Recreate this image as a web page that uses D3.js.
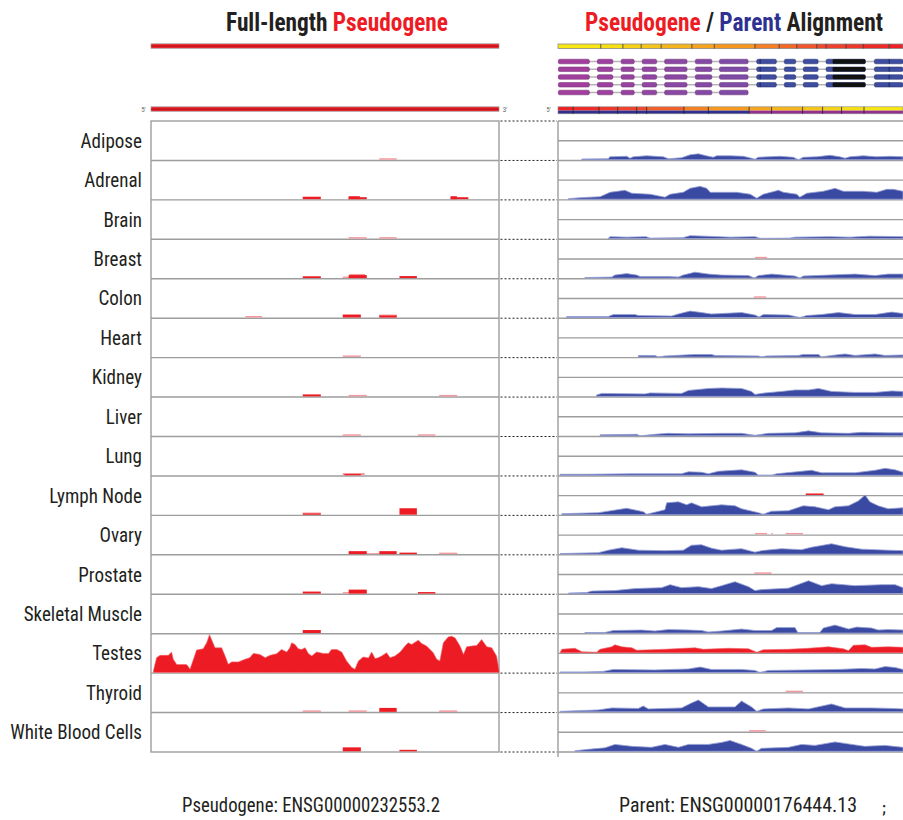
<!DOCTYPE html>
<html>
<head>
<meta charset="utf-8">
<script src="https://cdn.jsdelivr.net/npm/d3@7"></script>
<style>
  body { margin: 0; background: #fff; }
  svg { display: block; }
</style>
</head>
<body>
<svg id="chart" width="903" height="820"></svg>
<script>
// ---- Tissues (one track row each) ----
const tissues = ["Adipose", "Adrenal", "Brain", "Breast", "Colon", "Heart", "Kidney", "Liver",
  "Lung", "Lymph Node", "Ovary", "Prostate", "Skeletal Muscle", "Testes", "Thyroid", "White Blood Cells"];

// ---- Reads on the full-length pseudogene: [start %, end %, depth, kind] (u = unique, m = multi-mapped) ----
const pseudoAdipose  = [[65.6, 70.6, 1.5, "m"]];
const pseudoAdrenal  = [[43.6, 48.8, 2.5, "u"], [56.8, 62.0, 2, "u"], [56.8, 60.0, 3, "u"], [86.1, 91.2, 2, "u"], [86.1, 87.9, 3, "u"]];
const pseudoBrain    = [[56.8, 62.0, 1.5, "m"], [65.6, 70.6, 1.5, "m"]];
const pseudoBreast   = [[43.6, 48.8, 1.8, "u"], [55.1, 60.3, 1.5, "m"], [57.0, 61.5, 4.2, "m"], [56.8, 62.0, 3, "u"], [71.4, 76.4, 2, "u"]];
const pseudoColon    = [[27.1, 31.9, 1.5, "m"], [55.1, 60.3, 3, "u"], [65.6, 70.6, 3, "m"], [65.6, 70.6, 2, "u"]];
const pseudoHeart    = [[55.1, 60.3, 1.5, "m"]];
const pseudoKidney   = [[43.6, 48.8, 2, "u"], [56.8, 62.0, 1.5, "m"], [82.8, 88.0, 1.5, "m"]];
const pseudoLiver    = [[55.1, 60.3, 1.5, "m"], [76.7, 81.7, 1.5, "m"]];
const pseudoLung     = [[55.1, 61.4, 2.3, "m"], [55.6, 60.3, 1.2, "u"]];
const pseudoLymph    = [[43.6, 48.8, 2.2, "m"], [43.6, 48.8, 1.2, "u"], [71.4, 76.4, 6.5, "u"]];
const pseudoOvary    = [[56.8, 62.0, 3, "u"], [62.0, 65.6, 1, "m"], [65.6, 70.6, 3, "u"], [71.4, 76.4, 1.5, "u"], [82.8, 88.0, 1.5, "m"]];
const pseudoProstate = [[43.6, 48.8, 2, "u"], [55.1, 62.0, 1.5, "m"], [56.8, 62.0, 4, "u"], [76.7, 81.7, 1.5, "u"]];
const pseudoMuscle   = [[43.6, 48.8, 3, "u"]];
const pseudoTestes   = [];
const pseudoThyroid  = [[43.6, 48.8, 1.5, "m"], [56.8, 62.0, 1.5, "m"], [65.6, 70.6, 4, "u"], [82.8, 88.0, 1.5, "m"]];
const pseudoBlood    = [[55.1, 60.3, 4, "u"], [71.4, 76.4, 1.5, "u"]];

// Testes coverage along the pseudogene: [position %, depth]
const testesPseudoCoverage = [[0.7,1.7],[1.6,15],[2.6,17.3],[5.0,17.3],[5.9,20.7],[6.4,13.3],[7.4,8],[10.2,8],[10.7,6],
  [11.2,3.3],[12.2,13.3],[13.1,22.7],[15.0,24],[16.0,30],[16.8,38.3],[17.4,33.3],[18.4,25],[20.3,25],[21.3,16.7],
  [22.2,8.3],[23.2,10.7],[25.1,10.7],[27.0,13.3],[28.4,15],[29.4,19.3],[31.3,18.3],[32.8,15],[34.2,17.3],[36.1,19],
  [37.5,23.3],[39.0,20.7],[39.9,25],[40.4,30],[41.4,28.3],[42.3,24],[43.3,23.3],[44.3,25],[45.2,19.3],[46.2,16.7],
  [47.6,20.7],[49.5,19.3],[51.0,19.3],[51.9,23.3],[53.4,23.3],[54.8,20.7],[56.2,11.7],[57.7,5],[58.6,3.3],[59.6,11.7],
  [61.0,15.7],[62.5,14.7],[63.4,20.7],[64.4,14],[65.3,15],[66.3,16.7],[67.7,20],[68.7,15],[70.1,16.7],[71.6,20.7],
  [73.0,26.7],[73.9,30],[74.9,28.3],[75.9,30.7],[76.8,32.7],[77.8,29.3],[79.2,26.7],[81.1,20],[82.1,13.3],[83.0,11.7],
  [84.0,30],[85.4,36],[86.4,36.7],[87.4,35],[88.8,26.7],[89.8,18.3],[90.7,26],[92.1,26.7],[93.6,27.3],[95.0,33.3],
  [96.5,26],[97.9,25],[99.3,16.7],[99.8,6.7],[100,1.7]];

// ---- Parent-gene coverage per tissue: [position %, depth] ----
const parentAdipose = [[6.9,0.8],[14.6,1],[15,3],[19.9,3.5],[20.9,1.5],[21.8,3],[25.7,4],[30.5,3],[32,1],[35.8,2],[38.3,5],
  [40.7,6],[43,4],[45,2.5],[46,4],[49.9,4],[53.7,3.5],[56.1,1.5],[57.1,0.5],[58,2.5],[64.3,3.5],[68.2,2.5],[69.7,0],
  [71.1,2.5],[75,3],[78.8,4.5],[81.7,3],[83.2,1.5],[84.6,3],[88.5,4],[92.4,3],[96.2,3.5],[100,3]];
const parentAdrenal = [[3,0.5],[6.4,1.5],[12.2,2.5],[15.1,7],[19.4,9],[21.4,6],[26.7,5],[31,2],[32.5,5],[36.3,7],[38.3,11],
  [41.2,13],[43.1,11],[44.1,7],[51.8,7],[55.7,5],[57.6,1],[59.5,5],[63.9,9],[65.3,7],[69.2,5],[70.1,2],[72.1,6],
  [76.9,8],[80.3,11],[82.7,8],[88.5,8],[92.4,7],[95.3,10],[97.2,10],[100,8]];
const parentBrain = [[14.5,0],[15.1,2],[20,1.5],[25.5,2],[26.7,0.5],[36.2,1],[38.3,3],[42.6,2.5],[50,1.5],[57.1,2],
  [58.6,0.3],[67.2,0.5],[68.7,1.5],[78.8,2],[84.6,1.5],[90.4,2.5],[100,2]];
const parentBreast = [[7.8,0.5],[15.6,1],[16.5,3],[19.9,4.5],[22.8,3],[23.8,1.5],[32,1.5],[34.9,1],[36.3,3],[39.7,6],
  [43.6,4],[47.4,3],[55.2,2.5],[56.9,0],[58.1,2.5],[61.9,4],[68.7,2],[70.1,0],[71.1,2],[78.4,3],[86.1,4],[91.9,2.5],
  [95.7,4],[100,4]];
const parentColon = [[2.5,1],[14.6,1],[16,3],[22.3,3],[23.3,2],[32.9,1.5],[35.4,4],[38.3,6.5],[41.6,5],[44.5,3.5],
  [53.2,5],[57.1,2.5],[58.3,0.5],[59.5,3],[66.8,2.5],[70.1,0],[72.1,2],[76.4,3],[81.3,5],[86.1,3],[91.9,3],[96.7,5.5],
  [100,4]];
const parentHeart = [[23.3,1.5],[28.1,1.5],[29.1,0],[31,1],[39.7,2.5],[44.5,2.5],[45.5,1.5],[58.1,1],[59,0],[60.5,1],
  [69.7,1.5],[71.1,2.5],[75.5,2.5],[76.4,0],[79.3,1.5],[83.2,3],[86.1,1.5],[91.9,3],[94.8,1.5],[100,2]];
const parentKidney = [[11.2,1.5],[12.7,3],[25.2,2.5],[26.7,3.5],[35.8,3],[37.8,6],[43.6,8],[47.4,8.5],[53.2,8],[56.1,5],
  [57.1,2],[60,3.5],[64.8,5],[68.7,6.5],[72.6,6.5],[75.5,8],[79.3,5],[86.1,4],[91.9,4],[96.7,5.5],[100,5]];
const parentLiver = [[12.2,1],[22.8,1.5],[23.8,0],[28.1,1.5],[31.9,2.5],[37.8,2],[47.4,2.5],[53.2,2.5],[57.1,0.5],
  [61,2.5],[68.7,3],[72.6,5],[76.4,3],[84.2,2.5],[88,3.5],[95.7,3],[100,3]];
const parentLung = [[0.6,1],[8.8,1],[21.4,1.5],[30,1.5],[35.8,1.5],[37.8,3.5],[41.6,3],[43.6,1.5],[46.5,4],[53.2,5.5],
  [57.1,3],[58.1,0],[61.9,0],[63.4,1.5],[70.6,4],[73.5,5],[76.4,2.5],[86.1,2.5],[91.9,5],[94.8,7],[97.7,5.5],[100,3]];
const parentLymph = [[1.1,1],[11.7,2],[19.9,6.5],[24.7,3],[25.7,0.5],[28.1,2.5],[31,5],[31.5,12],[34.9,13],[37.3,10],
  [38.7,12],[41.6,8],[47.4,10],[51.3,9],[53.2,6],[58.1,2],[59.5,0.5],[61.9,3.5],[66.8,4],[71.1,9],[74.5,8],[78.4,5],
  [80.3,8],[84.2,9],[87.1,14],[89,20],[90.4,13],[92.8,9],[95.7,6],[100,7]];
const parentOvary = [[0.6,0.5],[11.7,1.5],[14.6,4],[18.5,6.5],[23.3,4],[31,3.5],[36.3,4],[38.7,9],[41.6,9.5],[44.5,6],
  [47.4,4],[53.2,5.5],[57.1,2],[59,3.5],[64.8,5.5],[70.6,4.5],[73.5,7],[79.3,10.5],[83.2,7.5],[88,5],[95.7,4],[100,3.5]];
const parentProstate = [[3,0.5],[8.3,1],[9.8,2.5],[16.5,3],[22.3,5],[30,6],[32.5,9],[35.8,6],[40.7,7],[44.5,5],[47.4,8],
  [51.3,12],[55.2,7],[57.1,3],[59,4],[66.8,5.5],[72.6,13],[76.4,8],[79.3,10],[86.1,8],[93.8,9],[97.7,9],[100,6]];
const parentMuscle = [[7.8,0.5],[13.6,0.5],[16,2.5],[24.3,3],[28.1,2],[32,3.5],[37.8,3],[41.6,2.5],[43.6,1],[47.4,2],
  [53.2,4],[57.1,2.5],[61.9,2.5],[63.4,5.5],[68.7,5.5],[69.5,0.5],[75.9,0.5],[76.9,5],[80.3,8],[84.2,4],[86.6,6],
  [90.9,5],[92.8,3],[95.7,3.5],[100,3]];
const parentTestes = [[0.6,0.5],[7.8,0.5],[13.1,1],[16,3],[28.1,2.5],[37.8,3.5],[41.2,5.5],[44.5,3],[53.2,3],[57.1,2],
  [58.5,0],[61,2],[71.6,2.5],[81.3,3],[88,4],[91.9,3.5],[94.8,6],[97.7,5],[100,3]];
const parentThyroid = [[0.6,0.5],[11.7,2],[15.6,4],[23.3,3.5],[24.7,6],[26.2,3],[35.8,4],[38.7,9],[40.7,12],[43.6,5],
  [51.3,5],[53.2,11],[56.1,5],[57.6,0.5],[59.5,3],[66.8,4],[72.6,3],[79.3,8],[83.2,4],[90.9,4],[96.7,3.5],[100,3]];
const parentBlood = [[4.9,0.5],[8.8,2],[13.6,3.5],[16.5,7],[21.4,5],[27.1,4],[31,7],[34.9,4],[37.8,7],[43.6,7],[47.4,9],
  [49.9,11],[53.2,7],[56.1,3],[57.6,0],[59,3],[66.8,4],[70.6,7],[74.5,6],[80.3,9.5],[85.1,7],[88.9,5],[94.8,6],[100,4]];

// ---- Pseudogene reads re-aligned onto the parent: [start %, end %, depth, kind] ----
const onParentBreast   = [[57.1, 60.6, 1.5, "m"]];
const onParentColon    = [[56.8, 60.3, 1.5, "m"]];
const onParentLymph    = [[71.8, 77.0, 1.5, "u"]];
const onParentOvary    = [[57.1, 60.6, 1.5, "m"], [61.9, 62.3, 1.5, "m"], [66.0, 71.0, 1.5, "m"]];
const onParentProstate = [[56.9, 61.9, 1.5, "m"]];
const onParentThyroid  = [[66.0, 71.0, 1.5, "m"]];
const onParentBlood    = [[55.4, 60.2, 1.5, "m"]];
// Testes reads spread over the whole parent alignment: [position %, depth]
const testesOnParentCoverage = [[0.6,0],[1.1,3.5],[4.9,4.5],[6.9,1],[11.2,0.5],[12.2,3.5],[15.6,6],[16.5,8],[18.5,6],
  [21.4,5],[22.8,2.5],[31,3.5],[39.7,5],[42.1,3.5],[49.4,4.5],[55.2,4],[57.6,0.5],[59.5,3],[66.8,3.5],[72.6,4.5],
  [78.4,6],[82.7,4],[84.2,2],[85.6,7.5],[89,8],[90.9,5.5],[95.7,6],[100,5.5]];

// ---- Parent transcript models (exon blocks, % of parent), 4 full isoforms and 1 partial ----
const parentExons = [[0.1, 9.1], [11.4, 15.9], [18.3, 22.1], [24.4, 28.6], [30.9, 37.4], [39.8, 44.6], [46.8, 55.1],
  [57.6, 63.3], [65.6, 68.9], [71.1, 75.4], [77.7, 89.1], [91.7, 100]];
const exonKinds = ["p", "p", "p", "p", "p", "p", "p", "b", "b", "b", "b", "b"];
const isoformExonCounts = [12, 12, 12, 12, 7];
const darkExonPart = [79.6, 89.1];
// Exon boundary ticks on the parent colour bar and on the alignment bar (% of parent)
const parentBarTicks = [12.4, 18.8, 24.1, 29.9, 38.8, 45.3, 57.1, 64.1, 69.2, 75.0, 77.7, 83.5, 88.5, 96.0];
const alignBarTicks = [4.4, 11.9, 17.3, 22.8, 25.7, 36.5, 43.6, 55.4, 61.9, 70.9, 76.7, 82.2, 88.7];
const alignStrandSplit = 55.4;

const pseudoTracks = [pseudoAdipose, pseudoAdrenal, pseudoBrain, pseudoBreast, pseudoColon, pseudoHeart, pseudoKidney,
  pseudoLiver, pseudoLung, pseudoLymph, pseudoOvary, pseudoProstate, pseudoMuscle, pseudoTestes, pseudoThyroid, pseudoBlood];
const parentTracks = [parentAdipose, parentAdrenal, parentBrain, parentBreast, parentColon, parentHeart, parentKidney,
  parentLiver, parentLung, parentLymph, parentOvary, parentProstate, parentMuscle, parentTestes, parentThyroid, parentBlood];
const onParentTracks = [[], [], [], onParentBreast, onParentColon, [], [], [], [], onParentLymph, onParentOvary,
  onParentProstate, [], [], onParentThyroid, onParentBlood];

const rows = tissues.map((name, i) => ({
  name,
  reads: pseudoTracks[i],
  parent: parentTracks[i],
  onParent: onParentTracks[i],
  pseudoCoverage: name === "Testes" ? testesPseudoCoverage : null,
  onParentCoverage: name === "Testes" ? testesOnParentCoverage : null
}));

// ---- Layout ----
const RED = "#ed1c24", PINK = "#f29aa0", BLUE = "#3a4aa3", NAVY = "#2e3192", INK = "#231f20", GRID = "#9d9d9d";
const NARROW = "'Liberation Sans Narrow', 'Roboto Condensed', 'Arial Narrow', 'Liberation Sans', sans-serif";
const trackTop = 121, trackBottom = 752;
const rowH = (trackBottom - trackTop) / tissues.length;

const svg = d3.select("#chart");
const xL = d3.scaleLinear().domain([0, 100]).range([151, 499]);
const xR = d3.scaleLinear().domain([0, 100]).range([558, 903]);
const yL = d3.scaleLinear().domain([0, 40]).range([0, rowH]);
const yR = d3.scaleLinear().domain([0, 20]).range([0, rowH / 2]);
const rowY = d3.scaleLinear().domain([0, tissues.length]).range([trackTop, trackBottom]);

function fitWidth(sel, width, cx) {
  const w = sel.node().getBBox().width;
  sel.attr("transform", `translate(${cx},0) scale(${width / w},1) translate(${-cx},0)`);
}

// ---- Titles ----
const t1 = svg.append("text").attr("x", 337).attr("y", 31).attr("text-anchor", "middle")
  .attr("font-family", NARROW).attr("font-weight", "bold").attr("font-size", 26);
t1.append("tspan").attr("fill", INK).text("Full-length ");
t1.append("tspan").attr("fill", RED).text("Pseudogene");
fitWidth(t1, 222, 337);

const t2 = svg.append("text").attr("x", 734).attr("y", 31).attr("text-anchor", "middle")
  .attr("font-family", NARROW).attr("font-weight", "bold").attr("font-size", 26);
t2.append("tspan").attr("fill", RED).text("Pseudogene");
t2.append("tspan").attr("fill", INK).text(" / ");
t2.append("tspan").attr("fill", NAVY).text("Parent");
t2.append("tspan").attr("fill", INK).text(" Alignment");
fitWidth(t2, 298, 734);

// ---- Pseudogene model bars ----
function pseudoBar(y) {
  svg.append("rect").attr("x", xL(0)).attr("y", y).attr("width", xL(100) - xL(0)).attr("height", 4.5)
    .attr("fill", RED).attr("stroke", "#a8a8a8").attr("stroke-width", 0.8);
  svg.append("line").attr("x1", xL(0)).attr("x2", xL(100)).attr("y1", y + 2.4).attr("y2", y + 2.4)
    .attr("stroke", "#b3121a").attr("stroke-width", 1);
}
pseudoBar(43.8);
pseudoBar(106.8);
const endLabel = (x, y, t) => svg.append("text").attr("x", x).attr("y", y).attr("font-size", 7)
  .attr("font-family", NARROW).attr("fill", "#666").attr("text-anchor", "middle").text(t);
endLabel(143.5, 111.5, "5'");
endLabel(505, 111.5, "3'");
endLabel(548.5, 111.5, "5'");

// ---- Parent colour bar (exon-coloured) ----
const warm = d3.scaleLinear().domain([0, 15, 40, 55, 75, 100])
  .range(["#f7ec13", "#f6e014", "#f6a71e", "#f7931d", "#ef4a2f", "#ed1c24"]);
const barEdges = [0, ...parentBarTicks, 100];
svg.append("g").selectAll("rect").data(d3.pairs(barEdges)).join("rect")
  .attr("x", d => xR(d[0])).attr("y", 44).attr("width", d => xR(d[1]) - xR(d[0])).attr("height", 4.5)
  .attr("fill", d => warm((d[0] + d[1]) / 2));
svg.append("rect").attr("x", xR(0)).attr("y", 44).attr("width", xR(100) - xR(0)).attr("height", 4.5)
  .attr("fill", "none").attr("stroke", "#8a8a8a").attr("stroke-width", 0.8);
svg.append("g").selectAll("line").data(parentBarTicks).join("line")
  .attr("x1", d => xR(d)).attr("x2", d => xR(d)).attr("y1", 44).attr("y2", 48.5)
  .attr("stroke", "#333").attr("stroke-width", 0.8);

// ---- Parent isoforms ----
const purple = d3.scaleLinear().domain([0, 6]).range(["#a23f9d", "#7d4ca6"]);
const isoY = d3.scaleLinear().domain([0, 4]).range([61.5, 92.5]);
isoformExonCounts.forEach((n, k) => {
  const cy = isoY(k);
  const exons = parentExons.slice(0, n);
  const g = svg.append("g");
  g.append("line").attr("x1", xR(exons[0][0])).attr("x2", xR(exons[n - 1][1])).attr("y1", cy).attr("y2", cy)
    .attr("stroke", "#b5b5b5").attr("stroke-width", 1.6);
  g.selectAll("rect.exon").data(exons).join("rect").attr("class", "exon")
    .attr("x", d => xR(d[0])).attr("y", cy - 2.3).attr("width", d => xR(d[1]) - xR(d[0])).attr("height", 4.6)
    .attr("rx", 1.5)
    .attr("fill", (d, i) => exonKinds[i] === "p" ? purple(i) : "#3e4da0")
    .attr("stroke", (d, i) => exonKinds[i] === "p" ? "#6e2a6e" : "#1f2a66").attr("stroke-width", 0.5);
  if (n > 10) {
    g.append("rect").attr("x", xR(darkExonPart[0])).attr("y", cy - 2.3)
      .attr("width", xR(darkExonPart[1]) - xR(darkExonPart[0])).attr("height", 4.6).attr("rx", 1.2).attr("fill", "#111");
    g.selectAll("line.split").data([parentExons[7][0] + 1, 96.0]).join("line").attr("class", "split")
      .attr("x1", d => xR(d)).attr("x2", d => xR(d)).attr("y1", cy - 2.3).attr("y2", cy + 2.3)
      .attr("stroke", "#151b4a").attr("stroke-width", 0.8);
  }
});

// ---- Pseudogene / parent alignment bar ----
const alignEdges = [0, ...alignBarTicks, 100];
svg.append("g").selectAll("rect").data(d3.pairs(alignEdges)).join("rect")
  .attr("x", d => xR(d[0])).attr("y", 106.8).attr("width", d => xR(d[1]) - xR(d[0])).attr("height", 3.8)
  .attr("fill", d => warm(100 - (d[0] + d[1]) / 2));
svg.append("rect").attr("x", xR(0)).attr("y", 110.6).attr("width", xR(alignStrandSplit) - xR(0)).attr("height", 3.2)
  .attr("fill", NAVY);
svg.append("rect").attr("x", xR(alignStrandSplit)).attr("y", 110.6)
  .attr("width", xR(100) - xR(alignStrandSplit)).attr("height", 3.2).attr("fill", "#93308f");
svg.append("rect").attr("x", xR(0)).attr("y", 106.8).attr("width", xR(100) - xR(0)).attr("height", 7)
  .attr("fill", "none").attr("stroke", "#8a8a8a").attr("stroke-width", 0.6);
svg.append("g").selectAll("line").data(alignBarTicks).join("line")
  .attr("x1", d => xR(d)).attr("x2", d => xR(d)).attr("y1", 106.8).attr("y2", 113.8)
  .attr("stroke", "#222").attr("stroke-width", 0.8);

// ---- Track frames ----
const grid = svg.append("g").attr("stroke", GRID).attr("stroke-width", 1.4).attr("fill", "none");
grid.append("rect").attr("x", xL(0)).attr("y", trackTop).attr("width", xL(100) - xL(0))
  .attr("height", trackBottom - trackTop);
grid.selectAll("line.l").data(d3.range(1, tissues.length)).join("line").attr("class", "l")
  .attr("x1", xL(0)).attr("x2", xL(100)).attr("y1", d => rowY(d)).attr("y2", d => rowY(d));
grid.selectAll("line.r").data(d3.range(0, tissues.length * 2 + 1)).join("line").attr("class", "r")
  .attr("x1", xR(0)).attr("x2", xR(100)).attr("y1", d => rowY(d / 2)).attr("y2", d => rowY(d / 2));
grid.append("line").attr("x1", xR(0)).attr("x2", xR(0)).attr("y1", trackTop).attr("y2", trackBottom + 5);

// Dotted connectors between the two panels at every row boundary
svg.append("g").selectAll("line").data(d3.range(0, tissues.length + 1)).join("line")
  .attr("x1", xL(100) + 1.5).attr("x2", xR(0) - 1).attr("y1", d => rowY(d)).attr("y2", d => rowY(d))
  .attr("stroke", "#222").attr("stroke-width", 1).attr("stroke-dasharray", "2,2");

// ---- Row labels ----
const labels = svg.append("g").attr("font-family", NARROW).attr("font-size", 20).attr("fill", INK)
  .attr("text-anchor", "end");
const labelSel = labels.selectAll("text").data(rows).join("text")
  .attr("x", 142).attr("y", (d, i) => rowY(i) + rowH / 2 + 7).text(d => d.name);
const widest = labelSel.filter(d => d.name === "White Blood Cells").node().getComputedTextLength();
const sx = 132 / widest;
labelSel.attr("transform", `translate(142,0) scale(${sx},1) translate(-142,0)`);

// ---- Marks ----
const withEnds = pts => [[pts[0][0], 0], ...pts, [pts[pts.length - 1][0], 0]];

rows.forEach((row, i) => {
  const baseL = rowY(i + 1) - 0.7;
  const midR = rowY(i + 0.5) - 0.7;
  const baseR = rowY(i + 1) - 0.7;
  const g = svg.append("g");

  // Pseudogene panel
  const reads = row.reads.slice().sort((a, b) => (a[3] === "m" ? 0 : 1) - (b[3] === "m" ? 0 : 1));
  g.selectAll("rect.pr").data(reads).join("rect").attr("class", "pr")
    .attr("x", d => xL(d[0])).attr("width", d => xL(d[1]) - xL(d[0]))
    .attr("y", d => baseL - yL(d[2])).attr("height", d => yL(d[2]))
    .attr("fill", d => d[3] === "m" ? PINK : RED);
  if (row.pseudoCoverage) {
    const area = d3.area().x(d => xL(d[0])).y0(baseL).y1(d => baseL - yL(d[1]));
    g.append("path").attr("d", area(withEnds(row.pseudoCoverage))).attr("fill", RED)
      .attr("stroke", "#f0646a").attr("stroke-width", 0.6);
  }

  // Parent panel: pseudogene reads (upper half)
  const onP = row.onParent.slice().sort((a, b) => (a[3] === "m" ? 0 : 1) - (b[3] === "m" ? 0 : 1));
  g.selectAll("rect.op").data(onP).join("rect").attr("class", "op")
    .attr("x", d => xR(d[0])).attr("width", d => xR(d[1]) - xR(d[0]))
    .attr("y", d => midR - yR(d[2])).attr("height", d => yR(d[2]))
    .attr("fill", d => d[3] === "m" ? PINK : RED);
  if (row.onParentCoverage) {
    const area = d3.area().x(d => xR(d[0])).y0(midR).y1(d => midR - yR(d[1]));
    g.append("path").attr("d", area(withEnds(row.onParentCoverage))).attr("fill", RED)
      .attr("stroke", "#f0646a").attr("stroke-width", 0.6);
  }

  // Parent panel: parent coverage (lower half)
  const areaP = d3.area().x(d => xR(d[0])).y0(baseR).y1(d => baseR - yR(d[1]));
  g.append("path").attr("d", areaP(withEnds(row.parent))).attr("fill", BLUE)
    .attr("stroke", "#97a0d4").attr("stroke-width", 0.8);
});

// ---- Gene identifiers ----
const foot = svg.append("g").attr("font-family", NARROW).attr("font-size", 21).attr("fill", INK)
  .attr("text-anchor", "middle");
const f1 = foot.append("text").attr("x", 311).attr("y", 812).text("Pseudogene: ENSG00000232553.2");
fitWidth(f1, 258, 311);
const f2 = foot.append("text").attr("x", 738).attr("y", 812).text("Parent: ENSG00000176444.13");
fitWidth(f2, 238, 738);
svg.append("text").attr("x", 884).attr("y", 813).attr("font-family", NARROW).attr("font-size", 14)
  .attr("font-weight", "bold").attr("fill", INK).attr("text-anchor", "middle").text(";");
</script>
</body>
</html>
